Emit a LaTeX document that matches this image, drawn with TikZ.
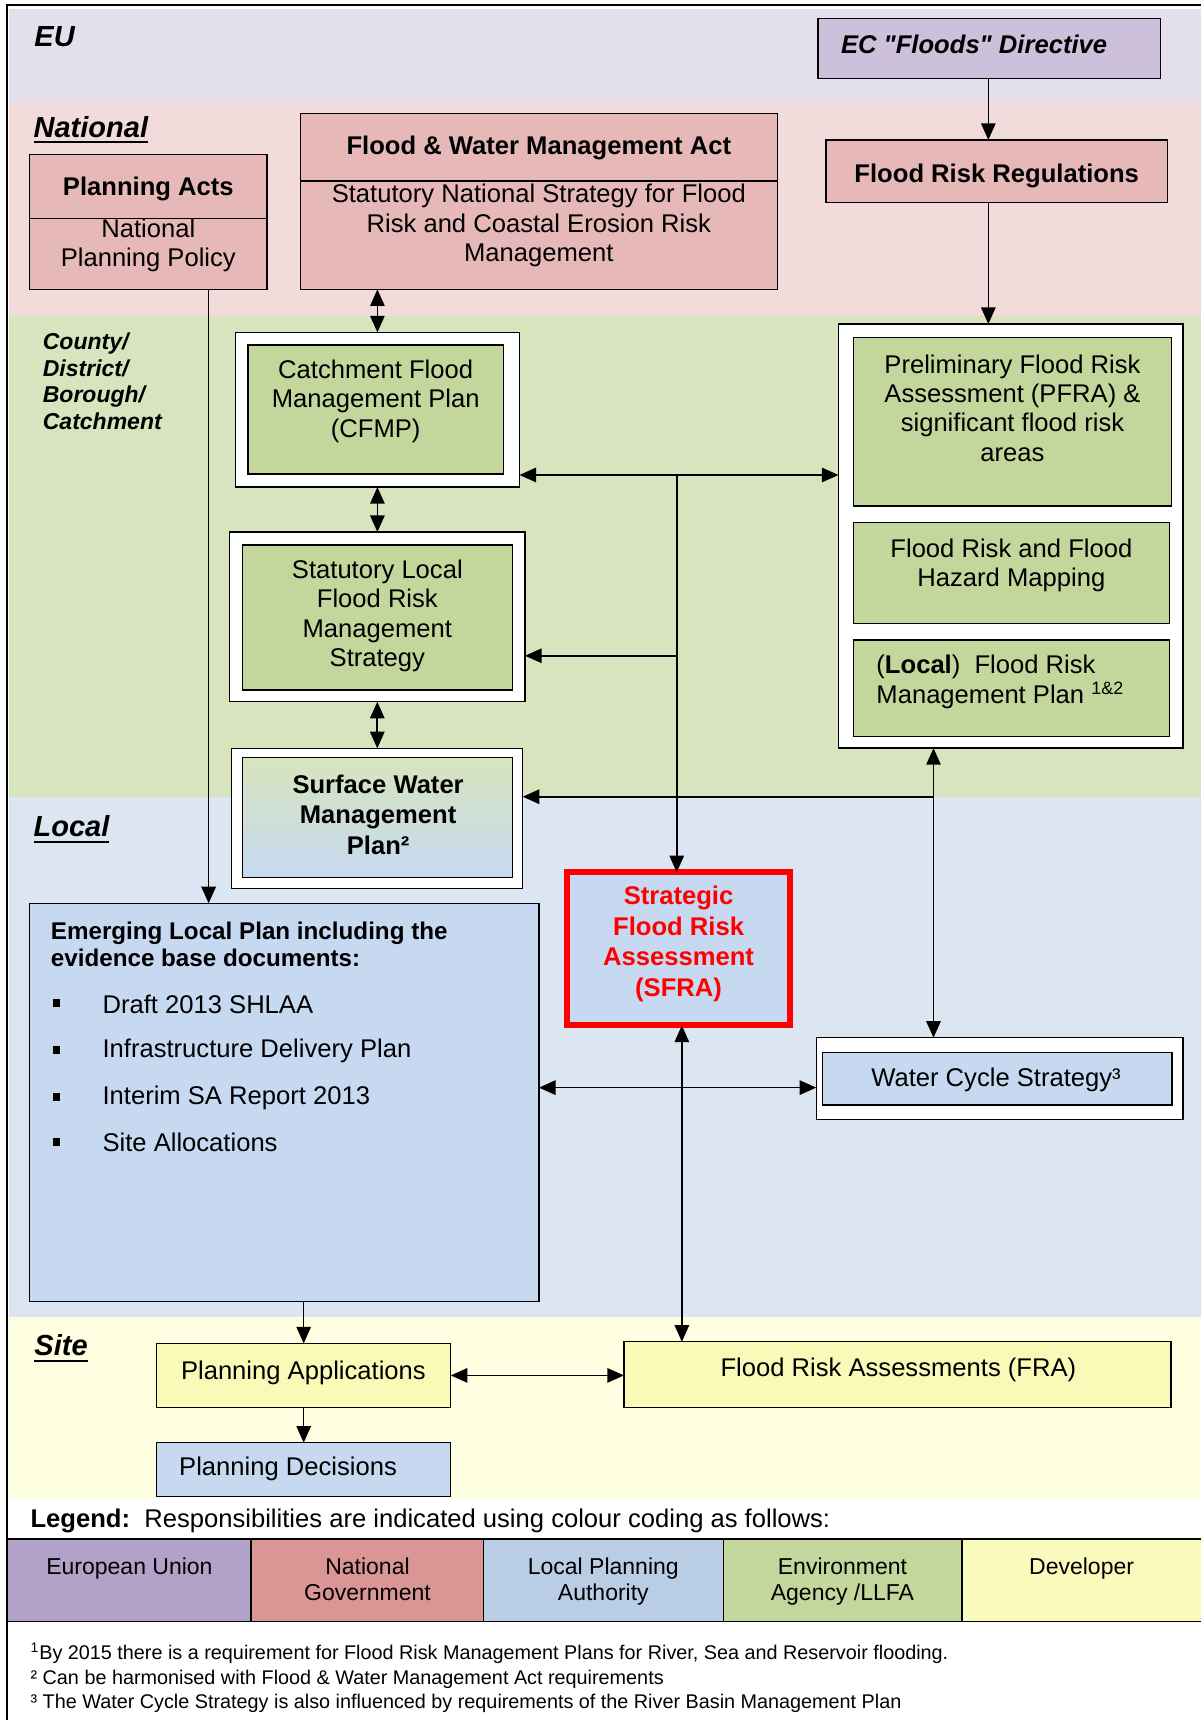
\documentclass[tikz,border=0pt]{standalone}
\usepackage{fontspec}
\setmainfont{Liberation Sans}[Ligatures=TeXOff]
\usetikzlibrary{arrows.meta}
\definecolor{eubg}{HTML}{E4DFEC}
\definecolor{ecbox}{HTML}{CCC0DA}
\definecolor{natbg}{HTML}{F2DCDB}
\definecolor{natbox}{HTML}{E6B9B8}
\definecolor{grnbg}{HTML}{D7E4BD}
\definecolor{grnbox}{HTML}{C3D69B}
\definecolor{locbg}{HTML}{DCE6F2}
\definecolor{blubox}{HTML}{C6D9F1}
\definecolor{sitebg}{HTML}{FEFEE0}
\definecolor{yelbox}{HTML}{FAFAB8}
\definecolor{legeu}{HTML}{B3A2C7}
\definecolor{legnat}{HTML}{D99694}
\definecolor{leglpa}{HTML}{B9CDE5}
\definecolor{legea}{HTML}{C3D69B}
\definecolor{legdev}{HTML}{FAFABC}
\definecolor{sfrared}{HTML}{FF0000}
\newcommand\mkbox[6]{%
  \node[boxbase,#6,minimum width={(#4-#2)*0.54847pt},minimum height={(#5-#3)*0.54847pt}] (#1) at ({(#2+#4)/2},{(#3+#5)/2}) {};}
\begin{document}
\begin{tikzpicture}[x=0.54847pt,y=-0.54847pt,
  every node/.style={inner sep=0pt,outer sep=0pt},
  boxbase/.style={draw=black,line width=0.65pt,rectangle},
  conn/.style={line width=0.8pt},
  >={Triangle[length=8.3pt,width=7.2pt]},
  tx/.style={font=\fontsize{12.8}{14.65}\selectfont,align=center},
  tb/.style={font=\fontsize{12.8}{15.3}\selectfont\bfseries,align=center},
  tbi/.style={font=\fontsize{14.5}{16}\selectfont\bfseries\itshape,anchor=west},
  cty/.style={font=\fontsize{11.5}{13.2}\selectfont\bfseries\itshape,anchor=west,align=left},
  legtx/.style={font=\fontsize{11.5}{12.6}\selectfont,align=center,anchor=north},
  fn/.style={font=\fontsize{9.9}{11}\selectfont,anchor=west},
  bul/.style={fill=black,minimum width=3.6pt,minimum height=4pt},
]
\fill[white] (0,0) rectangle (1094,1568);
\useasboundingbox (0,0) rectangle (1094,1568);
% bands
\fill[eubg] (8,8.5) rectangle (1100,92.7);
\fill[natbg] (8,92.7) rectangle (1100,288);
\fill[grnbg] (8,288) rectangle (1100,727);
\fill[locbg] (8,727) rectangle (1100,1200.3);
\fill[sitebg] (8,1200.3) rectangle (1100,1366);
% boxes
\mkbox{ecd}{745.7}{16.7}{1058}{71.4}{fill=ecbox}
\mkbox{pa}{26.9}{140.7}{243.5}{263.8}{fill=natbox}
\mkbox{fwma}{273.9}{103.3}{708.5}{263.8}{fill=natbox}
\mkbox{frr}{752.9}{127.6}{1064.4}{184.8}{fill=natbox}
\coordinate (pad) at (0,199);
\coordinate (fwd) at (0,165);
\draw[line width=0.65pt] (pa.west |- pad) -- (pa.east |- pad);
\draw[line width=0.65pt] (fwma.west |- fwd) -- (fwma.east |- fwd);
\mkbox{cfo}{214.6}{303}{473.5}{444}{fill=white}
\mkbox{cfi}{226.1}{314.5}{458.8}{432.1}{fill=grnbox}
\mkbox{slo}{209.3}{485}{478.6}{639.7}{fill=white}
\mkbox{sli}{220.9}{496.9}{467.3}{629}{fill=grnbox}
\mkbox{swo}{211}{682.2}{476.5}{809.9}{fill=white}
\mkbox{swi}{220.8}{690.6}{466.9}{799.8}{top color=grnbg,bottom color=blubox}
\mkbox{rbox}{764.4}{295.4}{1078.4}{682}{fill=white}
\mkbox{pfra}{778}{307.8}{1068}{461.2}{fill=grnbox}
\mkbox{frm}{778}{476.2}{1066.2}{568.3}{fill=grnbox}
\mkbox{lfr}{778}{583.5}{1066.2}{671.6}{fill=grnbox}
\mkbox{sfra}{517.3}{795.2}{719.8}{934.8}{fill=blubox,draw=sfrared,line width=3pt}
\mkbox{elp}{27.2}{823.5}{491.3}{1186.7}{fill=blubox}
\mkbox{wco}{744.1}{946}{1078.5}{1020.4}{fill=white}
\mkbox{wci}{749.7}{959.4}{1068.4}{1007.4}{fill=blubox}
\mkbox{papp}{142.8}{1224.7}{410.9}{1283}{fill=yelbox}
\mkbox{fra}{568.8}{1223.2}{1067.5}{1283}{fill=yelbox}
\mkbox{pd}{142.8}{1315.2}{410.9}{1364.5}{fill=blubox}
% legend cells
\mkbox{lc1}{7}{1403}{228.8}{1478.4}{fill=legeu}
\mkbox{lc2}{228.8}{1403}{441}{1478.4}{fill=legnat}
\mkbox{lc3}{441}{1403}{659.3}{1478.4}{fill=leglpa}
\mkbox{lc4}{659.3}{1403}{877}{1478.4}{fill=legea}
\mkbox{lc5}{877}{1403}{1110}{1478.4}{fill=legdev}
% region labels
\node[tbi] (eul) at (31.4,33.4) {EU};
\node[tbi] (natl) at (30.7,115.5) {National};
\node[tbi] (locl) at (30.7,753) {Local};
\node[tbi] (sitel) at (31.4,1226.2) {Site};
\draw[line width=1.1pt] ([yshift=-2.5pt]natl.south west) -- ([yshift=-2.5pt]natl.south east);
\draw[line width=1.1pt] ([yshift=-2.5pt]locl.south west) -- ([yshift=-2.5pt]locl.south east);
\draw[line width=1.1pt] ([yshift=-2.5pt]sitel.south west) -- ([yshift=-2.5pt]sitel.south east);
\node[cty] (ctyl) at (39.1,347.5) {County/\\District/\\Borough/\\Catchment};
% box texts
\node[tb] (ect) at (888,40.5) {\itshape EC "Floods" Directive};
\node[tb] (pat) at (135.2,172.5) {Planning Acts};
\node[tx] (pas) at (135.2,223.5) {National\\Planning Policy};
\node[tb] (fwt) at (491.2,134.7) {Flood \& Water Management Act};
\node[tx] (fws) at (491.2,205.5) {Statutory National Strategy for Flood\\Risk and Coastal Erosion Risk\\Management};
\node[tb] (frrt) at (908.6,160.5) {Flood Risk Regulations};
\node[tx] (cft) at (342.5,365.7) {Catchment Flood\\Management Plan\\(CFMP)};
\node[tx] (slt) at (344,561.5) {Statutory Local\\Flood Risk\\Management\\Strategy};
\node[tb] (swt) at (344.7,742.5) {Surface Water\\Management\\Plan²};
\node[tx] (pft) at (923,372) {Preliminary Flood Risk\\Assessment (PFRA) \&\\significant flood risk\\areas};
\node[tx] (fmt) at (922,515.4) {Flood Risk and Flood\\Hazard Mapping};
\node[tx,anchor=west,align=left] (lft) at (799,621.5) {(\textbf{Local})\ \ Flood Risk\\Management Plan \textsuperscript{1\&2}};
\node[tb,text=sfrared] (sft) at (618.6,860.5) {Strategic\\Flood Risk\\Assessment\\(SFRA)};
\node[font=\fontsize{12.1}{13.65}\selectfont\bfseries,anchor=west,align=left] (elph) at (46.4,861) {Emerging Local Plan including the\\evidence base documents:};
\node[bul] (b1) at (51.6,914.7) {};
\node[bul] (b2) at (51.6,957.3) {};
\node[bul] (b3) at (51.6,999.8) {};
\node[bul] (b4) at (51.6,1040.8) {};
\node[tx,anchor=west] (i1) at (93.5,915.5) {Draft 2013 SHLAA};
\node[tx,anchor=west] (i2) at (93.5,958) {Infrastructure Delivery Plan};
\node[tx,anchor=west] (i3) at (93.5,1000.5) {Interim SA Report 2013};
\node[tx,anchor=west] (i4) at (93.5,1041.5) {Site Allocations};
\node[tx] (wct) at (908,984) {Water Cycle Strategy³};
\node[tx] (papt) at (276.6,1251.5) {Planning Applications};
\node[tx] (frat) at (819,1248.4) {Flood Risk Assessments (FRA)};
\node[tx] (pdt) at (262.6,1339.5) {Planning Decisions};
% legend
\node[tx,anchor=west] (legt) at (27.9,1386.5) {\textbf{Legend:}\ \ Responsibilities are indicated using colour coding as follows:};
\node[legtx] (l1) at (118,1420.5) {European Union};
\node[legtx] (l2) at (335,1420.5) {National\\Government};
\node[legtx] (l3) at (550,1420.5) {Local Planning\\Authority};
\node[legtx] (l4) at (768,1420.5) {Environment\\Agency /LLFA};
\node[legtx] (l5) at (986,1420.5) {Developer};
% footnotes
\node[fn] (f1) at (27.9,1507.3) {\textsuperscript{1}By 2015 there is a requirement for Flood Risk Management Plans for River, Sea and Reservoir flooding.};
\node[fn] (f2) at (27.9,1531) {² Can be harmonised with Flood \& Water Management Act requirements};
\node[fn] (f3) at (27.9,1552.8) {³ The Water Cycle Strategy is also influenced by requirements of the River Basin Management Plan};
% connectors
\coordinate (xa) at (901,0);
\draw[conn,->] (ecd.south -| xa) -- (frr.north -| xa);
\draw[conn,->] (frr.south -| xa) -- (rbox.north -| xa);
\draw[conn,<->] (cfo.north |- fwma.south) -- (cfo.north);
\draw[conn,<->] (cfo.south) -- (slo.north -| cfo.south);
\draw[conn,<->] (slo.south) -- (swo.north -| slo.south);
\coordinate (hj) at (616.9,433);
\draw[conn,<->] (cfo.east |- hj) -- (rbox.west |- hj);
\draw[conn,->] (hj) -- (sfra.north -| hj);
\coordinate (bj) at (616.9,597.8);
\draw[conn,->] (bj) -- (slo.east |- bj);
\coordinate (sj) at (851,726.3);
\draw[conn,->] (sj) -- (swo.east |- sj);
\draw[conn,<->] (rbox.south -| sj) -- (wco.north -| sj);
\coordinate (ej) at (0,991.5);
\draw[conn,<->] (elp.east |- ej) -- (wco.west |- ej);
\coordinate (fx) at (621.6,0);
\draw[conn,<->] (sfra.south -| fx) -- (fra.north -| fx);
\coordinate (px) at (190.2,0);
\draw[conn,->] (pa.south -| px) -- (elp.north -| px);
\draw[conn,->] (elp.south -| papp.north) -- (papp.north);
\draw[conn,<->] (papp.east) -- (papp.east -| fra.west);
\draw[conn,->] (papp.south) -- (pd.north);
% frame
\draw[line width=1.3pt] (1100,4.6) -- (6.3,4.6) -- (6.3,1575);
\end{tikzpicture}
\end{document}
